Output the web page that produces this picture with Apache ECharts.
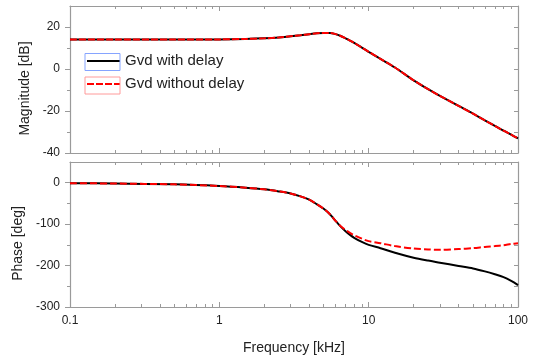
<!DOCTYPE html>
<html>
<head>
<meta charset="utf-8">
<script src="https://cdn.jsdelivr.net/npm/echarts@6/dist/echarts.min.js"></script>
<style>html,body{margin:0;padding:0;background:#fff;}#c{width:536px;height:359px;}</style>
</head>
<body>
<div id="c"></div>
<script>
// Frequencies in kHz
var freq = [0.1, 0.2, 0.5, 1, 1.5, 2, 2.5, 3, 3.5, 4, 4.5, 5, 5.5, 6, 6.5, 7, 7.5, 8, 9, 10, 12, 15, 20, 25, 30, 40, 50, 60, 70, 80, 90, 100];
// Magnitude [dB] (both curves coincide)
var magWithDelay = [14.0, 14.0, 14.05, 14.1, 14.3, 14.6, 15.0, 15.6, 16.1, 16.6, 17.0, 17.2, 17.2, 16.6, 15.7, 14.6, 13.5, 12.4, 10.2, 8.2, 4.8, 0.7, -5.4, -9.6, -12.8, -17.6, -21.3, -24.5, -27.1, -29.4, -31.3, -33.0];
var magWithoutDelay = [14.0, 14.0, 14.05, 14.1, 14.3, 14.6, 15.0, 15.6, 16.1, 16.6, 17.0, 17.2, 17.2, 16.6, 15.7, 14.6, 13.5, 12.4, 10.2, 8.2, 4.8, 0.7, -5.4, -9.6, -12.8, -17.6, -21.3, -24.5, -27.1, -29.4, -31.3, -33.0];
// Phase [deg]
var phaseWithDelay = [-1, -2, -4, -8, -12, -16, -21, -26, -33, -41, -52, -63, -76, -92, -106, -117, -126, -133, -143, -150, -158, -169, -181, -188, -193, -201, -207, -214, -221, -228, -237, -247];
var phaseWithoutDelay = [-1, -2, -4, -8, -12, -16, -21, -26, -33, -41, -52, -63, -76, -92, -105, -114, -121, -127, -135, -141, -146, -153, -159, -161, -162, -160, -158, -155, -153, -151, -148, -146];

var seriesNames = ['Gvd with delay', 'Gvd without delay'];
var xMajorTicks = [0.1, 1, 10, 100];
var xMinorTicks = [0.2, 0.3, 0.4, 0.5, 0.6, 0.7, 0.8, 0.9, 2, 3, 4, 5, 6, 7, 8, 9, 20, 30, 40, 50, 60, 70, 80, 90];
var magLabels = [-40, -20, 0, 20];
var magMinor = [-30, -10, 10];
var magRight = [-30, -20, -10, 0, 10, 20];
var phaseLabels = [-300, -200, -100, 0];
var phaseMinor = [-250, -150, -50];
var phaseRight = [-250, -200, -150, -100, -50, 0];

function pairs(xs, ys) { return xs.map(function (x, i) { return [x, ys[i]]; }); }

var FONT = '"Liberation Sans", Arial, sans-serif';
var AX = '#9a9a9a';
var TXT = '#222';

function xAx(grid, pos, ticks, len, showLine, labels, name) {
  return {
    type: 'log', logBase: 10, gridIndex: grid, position: pos, min: 0.1, max: 100,
    axisLine: { show: showLine, onZero: false, lineStyle: { color: AX, width: 1.2 } },
    axisTick: { show: true, inside: true, length: len, customValues: ticks, lineStyle: { color: AX, width: 1 } },
    axisLabel: labels ? { show: true, customValues: xMajorTicks, color: TXT, fontSize: 12, fontFamily: FONT, margin: 8 } : { show: false },
    splitLine: { show: false },
    name: name || '', nameLocation: 'middle', nameGap: 34,
    nameTextStyle: { color: TXT, fontSize: 14, fontFamily: FONT }
  };
}
function yAx(grid, pos, min, max, ticks, len, inside, showLine, labels, name, gap) {
  return {
    type: 'value', gridIndex: grid, position: pos, min: min, max: max,
    axisLine: { show: showLine, onZero: false, lineStyle: { color: AX, width: 1.2 } },
    axisTick: { show: true, inside: inside, length: len, customValues: ticks, lineStyle: { color: AX, width: 1 } },
    axisLabel: labels ? { show: true, customValues: labels, color: TXT, fontSize: 12, fontFamily: FONT, margin: 10 } : { show: false },
    splitLine: { show: false },
    name: name || '', nameLocation: 'middle', nameGap: gap || 0,
    nameTextStyle: { color: TXT, fontSize: 14, fontFamily: FONT, padding: [0, 18, 0, 0] }
  };
}

var option = {
  animation: false,
  backgroundColor: '#fff',
  grid: [
    { left: 70, right: 18, top: 6, height: 147 },
    { left: 70, right: 18, top: 162, height: 145 }
  ],
  xAxis: [
    xAx(0, 'bottom', xMajorTicks, 5, true, false),
    xAx(0, 'top', xMajorTicks, 5, true, false),
    xAx(0, 'bottom', xMinorTicks, 3, false, false),
    xAx(0, 'top', xMinorTicks, 3, false, false),
    xAx(1, 'bottom', xMajorTicks, 5, true, true, 'Frequency [kHz]'),
    xAx(1, 'top', xMajorTicks, 5, true, false),
    xAx(1, 'bottom', xMinorTicks, 3, false, false),
    xAx(1, 'top', xMinorTicks, 3, false, false)
  ],
  yAxis: [
    yAx(0, 'left', -40, 30, magLabels, 5, false, true, magLabels, 'Magnitude [dB]', 37),
    yAx(0, 'left', -40, 30, magMinor, 3, false, false, null),
    yAx(0, 'right', -40, 30, magRight, 4, true, true, null),
    yAx(1, 'left', -300, 50, phaseLabels, 5, false, true, phaseLabels, 'Phase [deg]', 45),
    yAx(1, 'left', -300, 50, phaseMinor, 3, false, false, null),
    yAx(1, 'right', -300, 50, phaseRight, 4, true, true, null)
  ],
  legend: {
    orient: 'vertical', left: 86, top: 53.5, padding: 0, itemWidth: 33, itemHeight: 16, itemGap: 8,
    data: seriesNames,
    itemStyle: { opacity: 0 },
    textStyle: { color: TXT, fontSize: 15, fontFamily: FONT },
    selectedMode: false
  },
  graphic: [
    { type: 'rect', shape: { x: 85, y: 53.5, width: 35, height: 17 }, style: { fill: 'none', stroke: '#86a4ff', lineWidth: 1 }, z: 100 },
    { type: 'rect', shape: { x: 85, y: 77, width: 35, height: 17 }, style: { fill: 'none', stroke: '#ff9a9a', lineWidth: 1 }, z: 100 }
  ],
  series: [
    { name: seriesNames[0], type: 'line', xAxisIndex: 0, yAxisIndex: 0, data: pairs(freq, magWithDelay), showSymbol: false, symbol: 'none', smooth: 0.3, lineStyle: { color: '#000', width: 2 }, itemStyle: { color: '#000' }, z: 2 },
    { name: seriesNames[1], type: 'line', xAxisIndex: 0, yAxisIndex: 0, data: pairs(freq, magWithoutDelay), showSymbol: false, symbol: 'none', smooth: 0.3, lineStyle: { color: '#ff0000', width: 2, type: [7, 2] }, itemStyle: { color: '#ff0000' }, z: 3 },
    { name: seriesNames[0], type: 'line', xAxisIndex: 4, yAxisIndex: 3, data: pairs(freq, phaseWithDelay), showSymbol: false, symbol: 'none', smooth: 0.3, lineStyle: { color: '#000', width: 2 }, itemStyle: { color: '#000' }, z: 2 },
    { name: seriesNames[1], type: 'line', xAxisIndex: 4, yAxisIndex: 3, data: pairs(freq, phaseWithoutDelay), showSymbol: false, symbol: 'none', smooth: 0.3, lineStyle: { color: '#ff0000', width: 2, type: [7, 3] }, itemStyle: { color: '#ff0000' }, z: 3 }
  ]
};
var chart = echarts.init(document.getElementById('c'), null, { renderer: 'canvas' });
chart.setOption(option);
</script>
</body>
</html>
